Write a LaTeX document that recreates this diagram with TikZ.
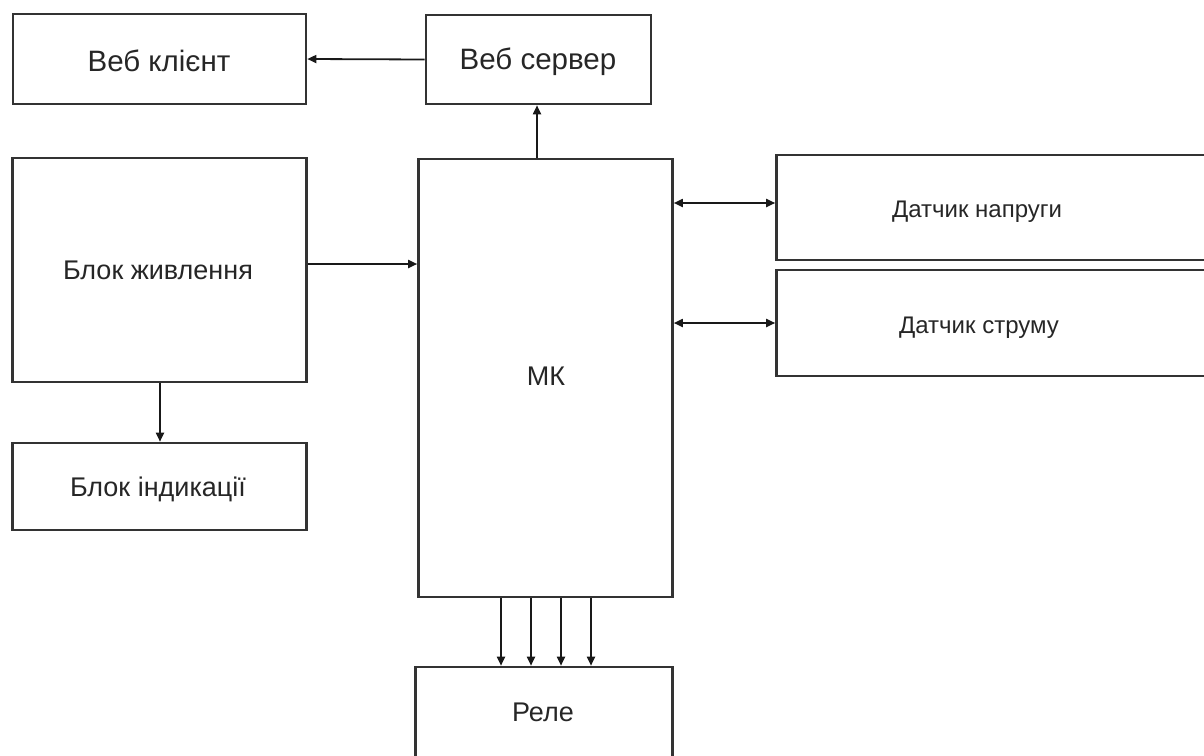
\documentclass[tikz,border=0pt]{standalone}
\usepackage{fontspec}
\setmainfont{Liberation Sans}
\usetikzlibrary{arrows.meta}
\begin{document}
\begin{tikzpicture}[x=1pt,y=-1pt,
  blk/.style={draw=black!80,line width=2.6pt,fill=none},
  lbl/.style={font=\fontsize{27}{32}\selectfont,text=black!85,inner sep=0pt},
  wlbl/.style={font=\fontsize{29.5}{34}\selectfont,text=black!85,inner sep=0pt},
  slbl/.style={font=\fontsize{24}{28}\selectfont,text=black!85,inner sep=0pt},
  conn/.style={draw=black!90,line width=1.8pt,-{Triangle[length=9pt,width=8pt]}},
  bconn/.style={draw=black!90,line width=1.8pt,{Triangle[length=9pt,width=8pt]}-{Triangle[length=9pt,width=8pt]}}]
\useasboundingbox (0,0) rectangle (1204,755);
\clip (0,0) rectangle (1204,755);
% boxes
\node[blk,minimum width=293pt,minimum height=90pt,inner sep=0pt] (client) at (159.5,59) {};
\node[blk,minimum width=225pt,minimum height=89pt,inner sep=0pt] (server) at (538.5,59.5) {};
\node[blk,minimum width=294pt,minimum height=224pt,inner sep=0pt] (power) at (159.5,270) {};
\node[blk,minimum width=294pt,minimum height=87pt,inner sep=0pt] (ind) at (159.5,486.5) {};
\node[blk,minimum width=254pt,minimum height=438pt,inner sep=0pt] (mk) at (545.5,378) {};
\node[blk,minimum width=450pt,minimum height=105pt,inner sep=0pt] (volt) at (1001.5,207.5) {};
\node[blk,minimum width=450pt,minimum height=106pt,inner sep=0pt] (curr) at (1001.5,323) {};
\node[blk,minimum width=257pt,minimum height=120pt,inner sep=0pt] (rele) at (544,727) {};
% labels
\node[wlbl] (tclient) at (159,61) {Веб клієнт};
\node[wlbl] (tserver) at (538,62) {Веб сервер};
\node[lbl] (tpower) at (158,270) {Блок живлення};
\node[lbl] (tind) at (158,489) {Блок індикації};
\node[lbl] (tmk) at (546,376) {МК};
\node[slbl] (tvolt) at (977,212) {Датчик напруги};
\node[slbl] (tcurr) at (979,328) {Датчик струму};
\node[lbl] (trele) at (543,712) {Реле};
% connectors
\draw[conn] (server.west) -- (client.east);
\draw[conn] (mk.north -| 537,0) -- (server.south -| 537,0);
\draw[conn] (power.east |- 0,264) -- (mk.west |- 0,264);
\draw[conn] (power.south -| 160,0) -- (ind.north -| 160,0);
\draw[bconn] (mk.east |- 0,203) -- (volt.west |- 0,203);
\draw[bconn] (mk.east |- 0,323) -- (curr.west |- 0,323);
\foreach \xx in {501,531,561,591}
  \draw[conn] (mk.south -| \xx,0) -- (rele.north -| \xx,0);
\end{tikzpicture}
\end{document}
